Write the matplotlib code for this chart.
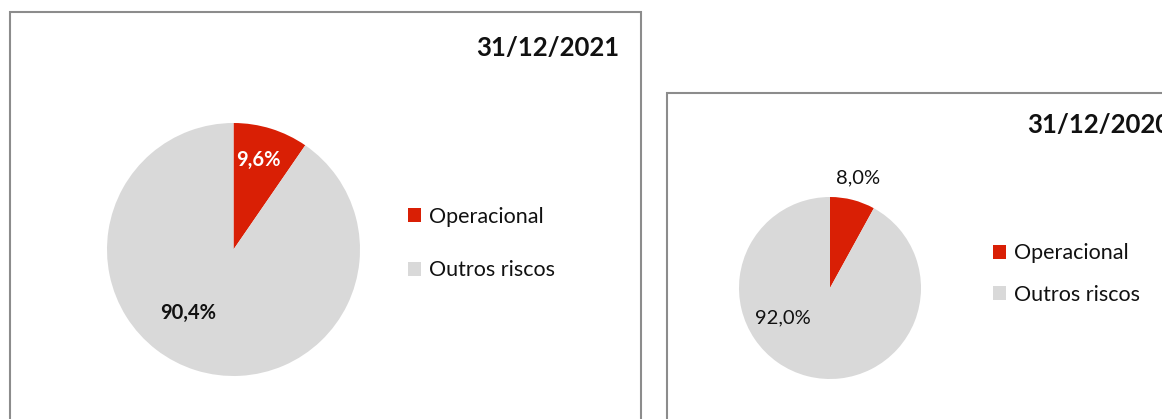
import matplotlib
matplotlib.use("Agg")
import matplotlib.pyplot as plt
from matplotlib.patches import Rectangle, Patch

categories = ["Operacional", "Outros riscos"]
values_2021 = [9.6, 90.4]
values_2020 = [8.0, 92.0]
titles = ["31/12/2021", "31/12/2020"]

colors = ["#D91F05", "#D9D9D9"]
plt.rcParams["font.family"] = ["Lato", "DejaVu Sans"]

W, H = 1162, 419
fig = plt.figure(figsize=(W / 100, H / 100), dpi=100)


def fx(x):
    return x / W


def fy(y):
    return 1 - y / H


def fmt(v):
    return f"{v:.1f}".replace(".", ",") + "%"


border = "#8C8C8C"
# panel frames
fig.add_artist(Rectangle((fx(10), fy(440)), fx(641) - fx(10), fy(12) - fy(440),
                         transform=fig.transFigure, fill=False, ec=border, lw=1.5))
fig.add_artist(Rectangle((fx(667), fy(440)), fx(1180) - fx(667), fy(93) - fy(440),
                         transform=fig.transFigure, fill=False, ec=border, lw=1.5))


def draw_pie(box, values, label_pos, label_style, title, title_xy, title_ha,
             leg_xy, labelspacing):
    x0, y0, x1, y1 = box
    ax = fig.add_axes([fx(x0), fy(y1), fx(x1) - fx(x0), fy(y0) - fy(y1)])
    ax.pie(values, colors=colors, startangle=90, counterclock=False,
           wedgeprops=dict(linewidth=0))
    ax.set_xlim(-1, 1)
    ax.set_ylim(-1, 1)
    ax.set_aspect("equal")
    ax.axis("off")
    for v, pos, st in zip(values, label_pos, label_style):
        ax.text(pos[0], pos[1], fmt(v), ha="center", va="center",
                fontsize=14.5, **st)
    fig.text(fx(title_xy[0]), fy(title_xy[1]), title, ha=title_ha, va="center",
             fontsize=18.5, fontweight="bold", color="#111111")
    handles = [Patch(facecolor=c, edgecolor="none") for c in colors]
    fig.legend(handles, categories, loc="center left",
               bbox_to_anchor=(fx(leg_xy[0]), fy(leg_xy[1])),
               frameon=False, fontsize=15.5, handlelength=0.62,
               handleheight=0.62, handletextpad=0.35, borderpad=0,
               borderaxespad=0, labelspacing=labelspacing, labelcolor="#111111")


draw_pie((107, 123, 360, 376), values_2021,
         [(0.20, 0.71), (-0.36, -0.50)],
         [dict(color="white", fontweight="bold"), dict(color="#111111", fontweight="bold")],
         titles[0], (619, 48), "right", (408, 243.5), 1.55)

draw_pie((739, 197, 921, 379), values_2020,
         [(0.31, 1.21), (-0.52, -0.33)],
         [dict(color="#111111"), dict(color="#111111")],
         titles[1], (1027, 125), "left", (993, 274), 1.0)

fig.savefig("out.png", dpi=100)
